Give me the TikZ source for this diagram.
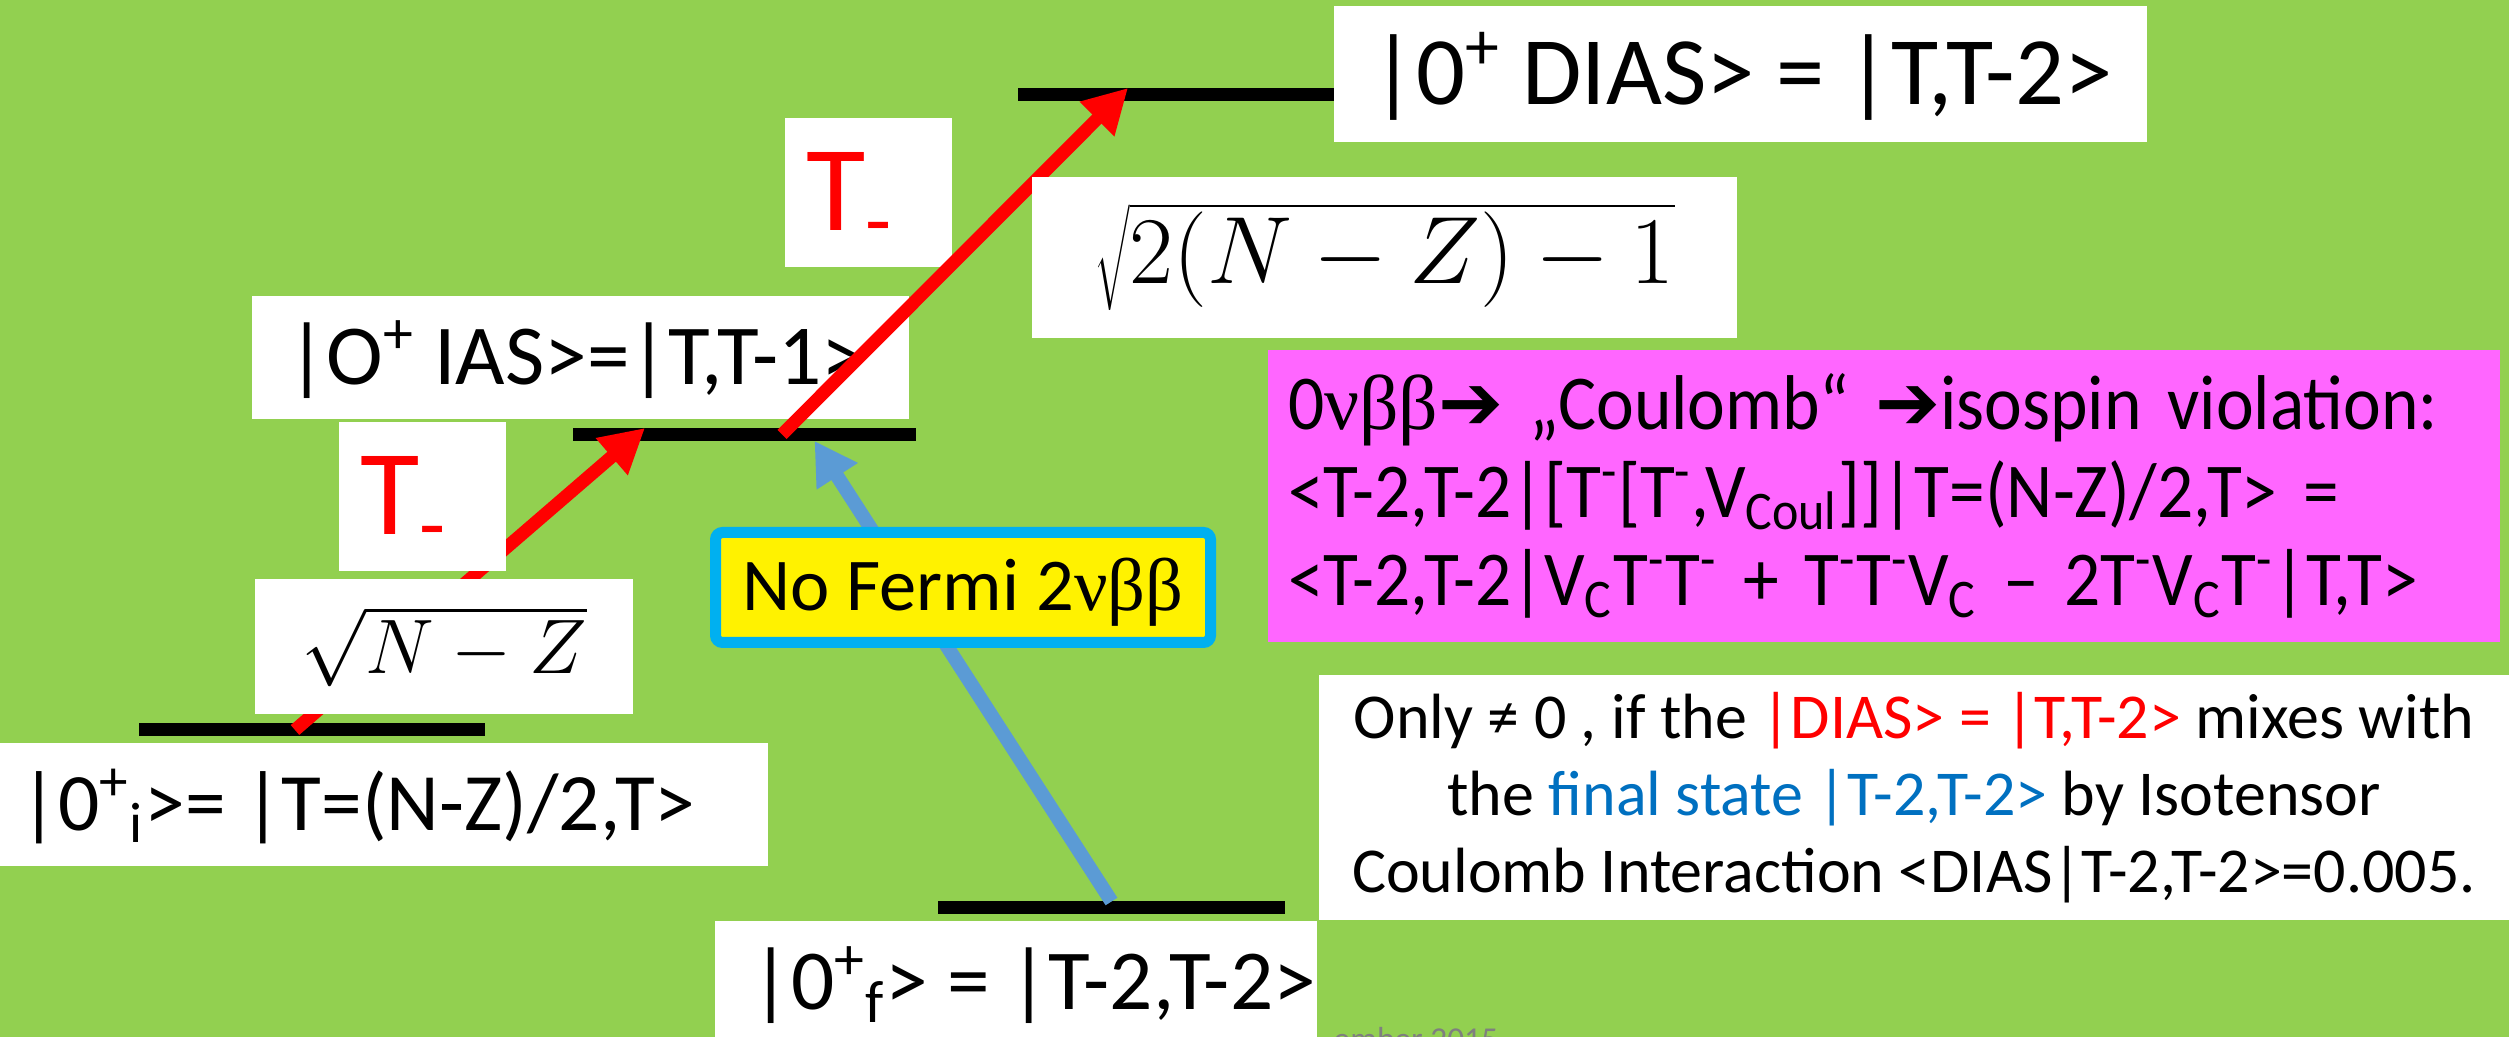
\RequirePackage{fix-cm}
\documentclass[tikz,border=0pt]{standalone}
\usepackage{fontspec}
\setmainfont{Carlito}
\newfontfamily\narrowfont[FakeStretch=0.92]{Carlito}
\newfontfamily\greekfont{Liberation Serif}
\newfontfamily\symfont{DejaVu Sans}
\usepackage{xcolor}
\usetikzlibrary{arrows.meta, positioning}
\definecolor{bggreen}{RGB}{146,208,80}
\definecolor{boxpink}{RGB}{255,102,255}
\definecolor{fermicyan}{RGB}{0,176,240}
\definecolor{arrowblue}{RGB}{91,155,213}
\definecolor{textblue}{RGB}{0,112,192}
\definecolor{dategray}{RGB}{127,127,127}
\newcommand{\gr}[1]{{\greekfont #1}}
\newcommand{\arr}{{\symfont ➔}}
\tikzset{
  lvl/.style={rectangle, fill=black, inner sep=0pt, outer sep=0pt, minimum height=0.13cm},
  whitebox/.style={rectangle, fill=white, inner sep=0pt, outer sep=0pt},
  stext/.style={inner sep=0pt, anchor=west, text height=0.54cm, text depth=0pt,
                font=\fontsize{24.3pt}{29pt}\selectfont},
  optext/.style={inner sep=0pt, anchor=west, text=red, text height=0.77cm, text depth=0pt,
                 font=\fontsize{34.6pt}{40pt}\selectfont},
  pinkbox/.style={rectangle, fill=boxpink, inner xsep=0.2cm, inner ysep=0pt, align=left,
                  font=\narrowfont\fontsize{22.1pt}{25pt}\selectfont},
  notebox/.style={rectangle, fill=white, inner sep=0pt, align=center,
                  font=\fontsize{18.2pt}{21.9pt}\selectfont},
  fermibox/.style={rectangle, rounded corners=2pt, draw=fermicyan, line width=0.11cm, fill=yellow,
                   inner sep=0pt, font=\fontsize{21.2pt}{25pt}\selectfont},
  redarrow/.style={-{Triangle[length=0.44cm, width=0.46cm]}, line width=0.13cm, red},
  bluearrow/.style={-{Triangle[length=0.42cm, width=0.46cm]}, line width=0.14cm, arrowblue},
}
\begin{document}
\begin{tikzpicture}

  \clip (0,0) rectangle (25.09,10.37);
  \fill[bggreen] (0,0) rectangle (25.09,10.37);

  % --- Coulomb box and note ---
  \node[pinkbox, minimum width=12.32cm, minimum height=2.92cm, text width=11.92cm] (coul) at (18.84,5.41)
        {0\gr{νββ}\arr{} „Coulomb“ \arr isospin violation:\\
         <T-2,T-2|[T\textsuperscript{-}[T\textsuperscript{-},V\textsubscript{Coul}]]|T=(N-Z)/2,T> =\\
         <T-2,T-2|V\textsubscript{C}T\textsuperscript{-}T\textsuperscript{-} + T\textsuperscript{-}T\textsuperscript{-}V\textsubscript{C} – 2T\textsuperscript{-}V\textsubscript{C}T\textsuperscript{-}|T,T>};
  \node[notebox, minimum width=11.90cm, minimum height=2.45cm] (note) at (19.14,2.395)
        {Only ≠ 0 , if the \textcolor{red}{|DIAS> = |T,T-2>} mixes with\\
         the \textcolor{textblue}{final state |T-2,T-2>} by Isotensor\\
         Coulomb Interaction <DIAS|T-2,T-2>=0.005.};

  % --- Levels ---
  \node[lvl, minimum width=3.46cm] (lvlI)    at (3.12,3.07)   {};
  \node[lvl, minimum width=3.43cm] (lvlIAS)  at (7.445,6.025) {};
  \node[lvl, minimum width=3.16cm] (lvlDIAS) at (11.76,9.425) {};
  \node[lvl, minimum width=3.47cm] (lvlF)    at (11.115,1.29) {};

  % --- First step ---
  \draw[redarrow] ([xshift=-0.17cm]lvlI.center) -- ([xshift=-0.995cm]lvlIAS.north);
  \node[whitebox, minimum width=1.67cm, minimum height=1.49cm] (opA) at (4.225,5.405) {};
  \node[optext, right=0.21cm of opA.west] (opAt) {T\textsubscript{-}};
  \node[whitebox, minimum width=3.78cm, minimum height=1.35cm,
        font=\fontsize{22pt}{26pt}\selectfont] (sqA) at (4.44,3.905) {$\sqrt{N-Z}$};

  % --- Second step ---
  \node[whitebox, minimum width=6.57cm, minimum height=1.23cm] (stIAS) at (5.805,6.795) {};
  \node[stext, right=0.35cm of stIAS.west] (stIASt) {|O\textsuperscript{+} IAS>=|T,T-1>};
  \node[whitebox, minimum width=1.67cm, minimum height=1.49cm] (opB) at (8.685,8.445) {};
  \node[optext, right=0.21cm of opB.west] (opBt) {T\textsubscript{-}};
  \draw[redarrow] ([xshift=0.375cm]lvlIAS.center) -- ([xshift=-0.48cm]lvlDIAS.north);
  \node[whitebox, minimum width=7.05cm, minimum height=1.61cm,
        font=\fontsize{27.2pt}{32pt}\selectfont] (sqB) at (13.845,7.795) {$\sqrt{2(N-Z)-1}$};

  % --- State labels ---
  \node[whitebox, minimum width=8.13cm, minimum height=1.36cm] (stDIAS) at (17.405,9.63) {};
  \node[stext, right=0.37cm of stDIAS.west, text height=0.61cm,
        font=\fontsize{27.5pt}{33pt}\selectfont] (stDIASt) {|0\textsuperscript{+} DIAS> = |T,T-2>};
  \node[whitebox, minimum width=7.68cm, minimum height=1.23cm] (stI) at (3.84,2.325) {};
  \node[stext, right=0.2cm of stI.west, text height=0.52cm,
        font=\fontsize{23.2pt}{28pt}\selectfont] (stIt) {|0\textsuperscript{+}\textsubscript{i}>= |T=(N-Z)/2,T>};
  \node[whitebox, minimum width=6.02cm, minimum height=1.24cm] (stF) at (10.16,0.54) {};
  \node[stext, right=0.36cm of stF.west] (stFt) {|0\textsuperscript{+}\textsubscript{f}> = |T-2,T-2>};

  % --- Fermi transition ---
  \draw[bluearrow] (lvlF.north) -- ([xshift=0.7cm]lvlIAS.south);
  \node[fermibox, minimum width=4.95cm, minimum height=1.10cm, text height=0.47cm, text depth=0pt]
        (fermi) at (9.63,4.495) {No Fermi 2\gr{νββ}};

  \node[anchor=base west, inner sep=0pt, text=dategray, font=\fontsize{9.5pt}{11pt}\selectfont]
        (date) at (13.33,-0.14) {ember 2015};

\end{tikzpicture}
\end{document}
